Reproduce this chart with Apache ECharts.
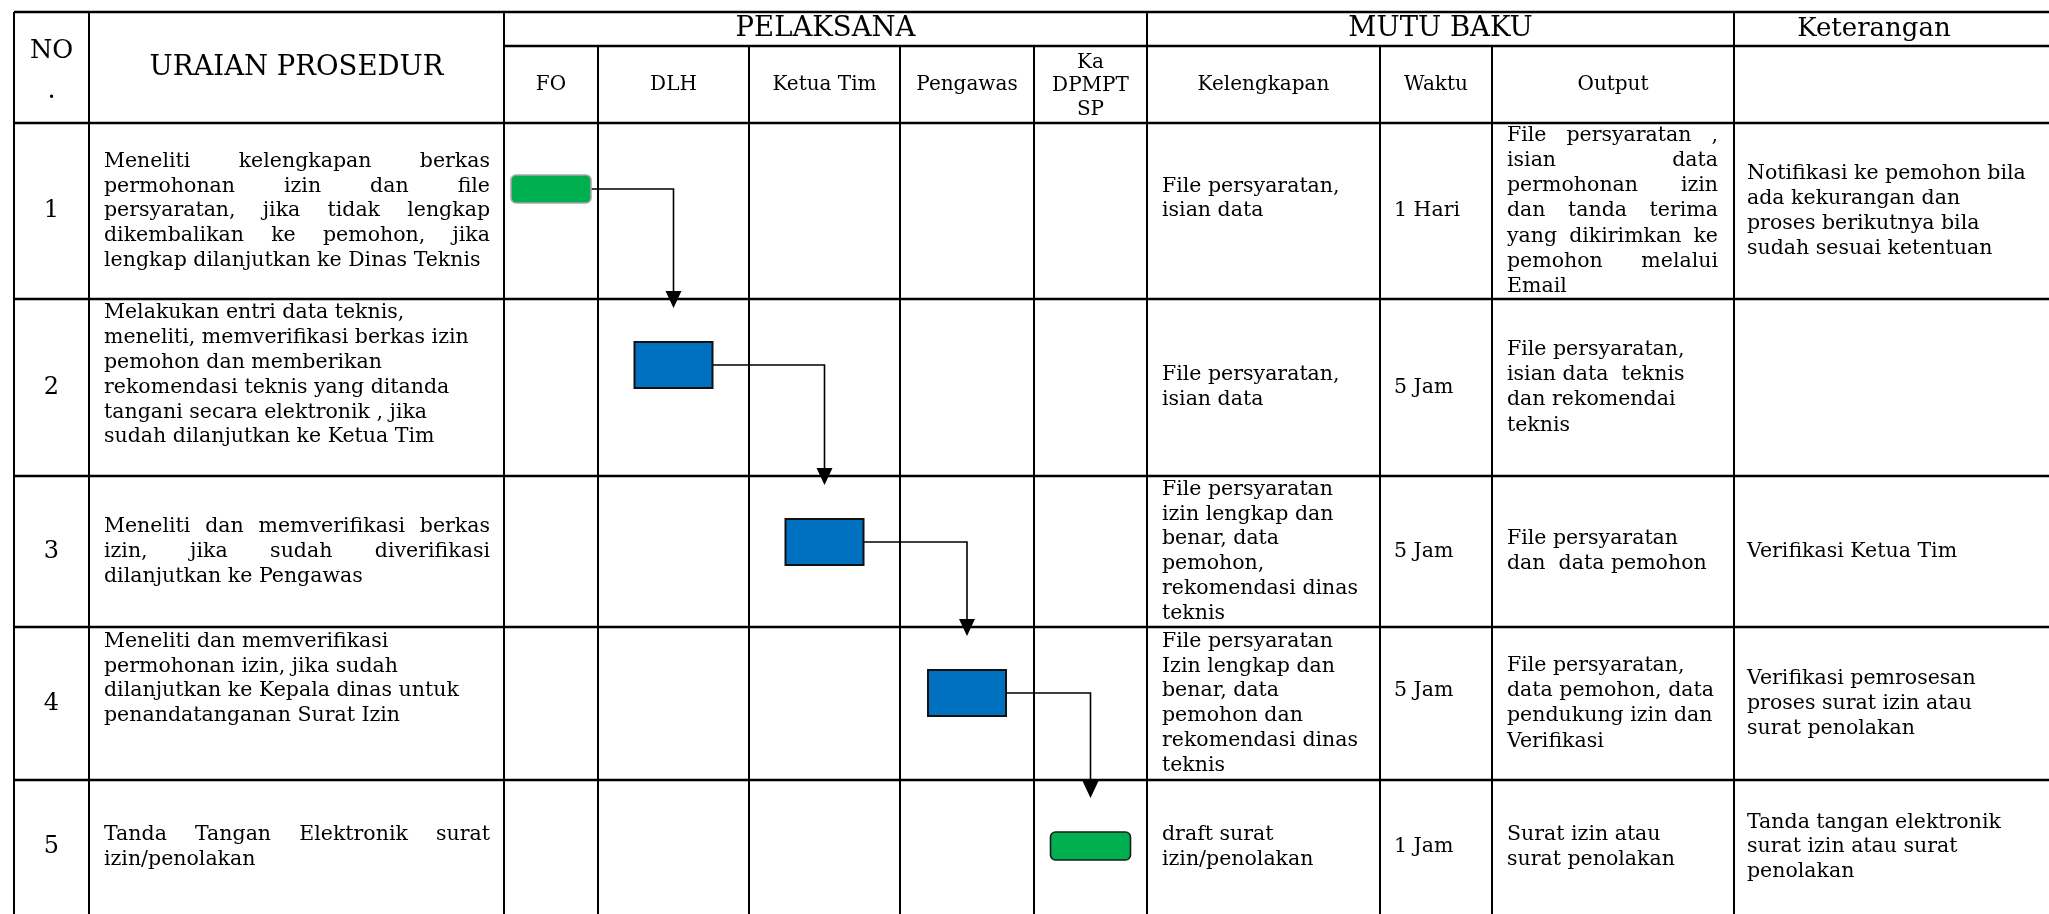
<!DOCTYPE html>
<html><head><meta charset="utf-8">
<script src="https://cdn.jsdelivr.net/npm/echarts@6/dist/echarts.min.js"></script>
<style>html,body{margin:0;padding:0;background:#fff}#c{width:2049px;height:914px}</style>
</head><body><div id="c"></div>
<script>
// ---------------- DATA ----------------
const stepNo = ['1', '2', '3', '4', '5'];
const uraian = [
  'Meneliti kelengkapan berkas\npermohonan izin dan file\npersyaratan, jika tidak lengkap\ndikembalikan ke pemohon, jika\nlengkap dilanjutkan ke Dinas Teknis',
  'Melakukan entri data teknis,\nmeneliti, memverifikasi berkas izin\npemohon dan memberikan\nrekomendasi teknis yang ditanda\ntangani secara elektronik , jika\nsudah dilanjutkan ke Ketua Tim\n',
  'Meneliti dan memverifikasi berkas\nizin, jika sudah diverifikasi\ndilanjutkan ke Pengawas',
  'Meneliti dan memverifikasi\npermohonan izin, jika sudah\ndilanjutkan ke Kepala dinas untuk\npenandatanganan Surat Izin\n\n',
  'Tanda Tangan Elektronik surat\nizin/penolakan'
];
const actors = ['FO', 'DLH', 'Ketua Tim', 'Pengawas', 'Ka\nDPMPT\nSP'];
const stepActor = [0, 1, 2, 3, 4];
const stepShape = ['terminal', 'process', 'process', 'process', 'terminal'];
const kelengkapan = [
  'File persyaratan,\nisian data\n',
  'File persyaratan,\nisian data',
  'File persyaratan\nizin lengkap dan\nbenar, data\npemohon,\nrekomendasi dinas\nteknis',
  'File persyaratan\nIzin lengkap dan\nbenar, data\npemohon dan\nrekomendasi dinas\nteknis',
  'draft surat\nizin/penolakan'
];
const waktu = ['1 Hari', '5 Jam', '5 Jam', '5 Jam\n', '1 Jam'];
const outputs = [
  'File persyaratan ,\nisian data\npermohonan izin\ndan tanda terima\nyang dikirimkan ke\npemohon melalui\nEmail',
  'File persyaratan,\nisian data  teknis\ndan rekomendai\nteknis',
  'File persyaratan\ndan  data pemohon',
  'File persyaratan,\ndata pemohon, data\npendukung izin dan\nVerifikasi',
  'Surat izin atau\nsurat penolakan'
];
const keterangan = [
  'Notifikasi ke pemohon bila\nada kekurangan dan\nproses berikutnya bila\nsudah sesuai ketentuan',
  '',
  'Verifikasi Ketua Tim',
  'Verifikasi pemrosesan\nproses surat izin atau\nsurat penolakan',
  'Tanda tangan elektronik\nsurat izin atau surat\npenolakan'
];
const mainHeaders = ['NO\n.', 'URAIAN PROSEDUR'];
const groupHeaders = ['PELAKSANA', 'MUTU BAKU', 'Keterangan'];
const mutuHeaders = ['Kelengkapan', 'Waktu', 'Output'];

// ---------------- LAYOUT / STYLE ----------------
const W = 2049, H = 914;
const colX = [14, 89, 504, 598, 749, 900, 1034, 1147, 1380, 1492, 1734, 2014];
const rowY = [12, 46, 123, 299, 476, 627, 780, 914];
const FONT = '"DejaVu Serif"';
const S = { body: 20.5, sub: 20, subSmall: 20, head: 27.5, num: 24, lh: 24.8, pad: 15 };
const justifyUraian = [true, false, true, false, true];
const justifyOutput = [true, false, false, false, false];
const SHAPE = {
  terminal: { w: 80, h: 28, r: 5, fill: '#00B050' },
  process: { w: 78, h: 46, r: 0, fill: '#0070C0', stroke: '#111', lw: 2 }
};
const terminalStroke = ['#a8a8a8', '#1a1a1a'];
const BOX_DY = 66, ARROW_GAP = 34, HEAD_H = 17, HEAD_W = 16;

const mctx = document.createElement('canvas').getContext('2d');
function tw(s, size) { mctx.font = size + 'px ' + FONT; return mctx.measureText(s).width; }
function mk(s, x, y, align, size) {
  return { type: 'text', x: x, y: y, silent: true,
    style: { text: s, font: size + 'px ' + FONT, fill: '#000', align: align, verticalAlign: 'middle' } };
}
function textBlock(api, text, o) {
  const els = [];
  if (!text) return els;
  const lines = text.split('\n');
  const n = lines.length;
  const lh = o.lh;
  let lastIdx = -1;
  lines.forEach((l, k) => { if (l.trim()) lastIdx = k; });
  const y0 = o.cy - n * lh / 2 + lh / 2;
  lines.forEach((ln, k) => {
    if (!ln.trim()) return;
    const yData = y0 + k * lh;
    const p = api.coord([o.x, yData]);
    const words = ln.split(' ').filter(w => w);
    if (o.justify && k < lastIdx && words.length > 1) {
      const pr = api.coord([o.right, yData]);
      const ws = words.map(w => tw(w, o.size));
      const sum = ws.reduce((a, b) => a + b, 0);
      const gap = (pr[0] - p[0] - sum) / (words.length - 1);
      let x = p[0];
      words.forEach((w, j) => { els.push(mk(w, x, p[1], 'left', o.size)); x += ws[j] + gap; });
    } else {
      els.push(mk(ln, p[0], p[1], o.align || 'left', o.size));
    }
  });
  return els;
}
function hline(api, x1, x2, y, lw) {
  const a = api.coord([x1, y]), b = api.coord([x2, y]);
  return { type: 'line', silent: true, shape: { x1: a[0], y1: a[1], x2: b[0], y2: b[1] }, style: { stroke: '#000', lineWidth: lw || 2.4 } };
}
function vline(api, x, y1, y2, lw) {
  const a = api.coord([x, y1]), b = api.coord([x, y2]);
  return { type: 'line', silent: true, shape: { x1: a[0], y1: a[1], x2: b[0], y2: b[1] }, style: { stroke: '#000', lineWidth: lw || 2 } };
}
const cc = c => (colX[c] + colX[c + 1]) / 2;

function renderHeader(params, api) {
  const ch = [];
  const top = rowY[0], mid = rowY[1], bot = rowY[2];
  ch.push(hline(api, colX[0], W, top));
  ch.push(hline(api, colX[2], W, mid));
  ch.push(hline(api, colX[0], W, bot));
  [0, 1, 2, 7, 10].forEach(c => ch.push(vline(api, colX[c], top, bot)));
  [3, 4, 5, 6, 8, 9].forEach(c => ch.push(vline(api, colX[c], mid, bot)));
  ch.push(...textBlock(api, mainHeaders[0], { x: cc(0), cy: (top + bot) / 2 + 4, size: S.head - 2, lh: 40, align: 'center' }));
  ch.push(...textBlock(api, mainHeaders[1], { x: cc(1), cy: (top + bot) / 2, size: S.head, lh: 34, align: 'center' }));
  const gy = (top + mid) / 2;
  ch.push(...textBlock(api, groupHeaders[0], { x: (colX[2] + colX[7]) / 2, cy: gy, size: S.head, lh: 30, align: 'center' }));
  ch.push(...textBlock(api, groupHeaders[1], { x: (colX[7] + colX[10]) / 2, cy: gy, size: S.head, lh: 30, align: 'center' }));
  ch.push(...textBlock(api, groupHeaders[2], { x: (colX[10] + colX[11]) / 2, cy: gy, size: S.head - 1.5, lh: 30, align: 'center' }));
  const sy = (mid + bot) / 2;
  actors.forEach((a, i) => {
    const multi = a.indexOf('\n') >= 0;
    ch.push(...textBlock(api, a, { x: cc(2 + i), cy: sy + (multi ? 1.5 : 0), size: multi ? S.subSmall : S.sub, lh: 23.5, align: 'center' }));
  });
  mutuHeaders.forEach((m, i) => ch.push(...textBlock(api, m, { x: cc(7 + i), cy: sy, size: S.sub, lh: 24, align: 'center' })));
  return { type: 'group', children: ch };
}

function renderRow(params, api) {
  const r = params.dataIndex;
  const top = rowY[r + 2], bot = rowY[r + 3];
  const cy = (top + bot) / 2;
  const last = r === stepNo.length - 1;
  const ch = [];
  if (!last) ch.push(hline(api, colX[0], W, bot));
  for (let c = 0; c <= 10; c++) ch.push(vline(api, colX[c], top, bot));
  ch.push(...textBlock(api, stepNo[r], { x: cc(0), cy: cy, size: S.num, lh: 28, align: 'center' }));
  ch.push(...textBlock(api, uraian[r], { x: colX[1] + S.pad, right: colX[2] - 14, cy: cy, size: S.body, lh: S.lh, justify: justifyUraian[r] }));
  ch.push(...textBlock(api, kelengkapan[r], { x: colX[7] + S.pad, cy: cy, size: S.body, lh: S.lh }));
  ch.push(...textBlock(api, waktu[r], { x: colX[8] + 14, cy: cy, size: S.body, lh: S.lh }));
  ch.push(...textBlock(api, outputs[r], { x: colX[9] + S.pad, right: colX[10] - 16, cy: cy, size: S.body, lh: 25.2, justify: justifyOutput[r] }));
  ch.push(...textBlock(api, keterangan[r], { x: colX[10] + 13, cy: cy, size: S.body, lh: S.lh }));
  return { type: 'group', children: ch };
}

function renderFlow(params, api) {
  const i = params.dataIndex;
  const col = 2 + stepActor[i];
  const cx = cc(col);
  const cy = rowY[i + 2] + BOX_DY;
  const sh = SHAPE[stepShape[i]];
  const a = api.coord([cx - sh.w / 2, cy - sh.h / 2]);
  const b = api.coord([cx + sh.w / 2, cy + sh.h / 2]);
  const ch = [];
  const isT = stepShape[i] === 'terminal';
  ch.push({ type: 'rect', silent: true, z2: 5,
    shape: { x: a[0], y: a[1], width: b[0] - a[0], height: b[1] - a[1], r: sh.r },
    style: { fill: sh.fill, stroke: isT ? terminalStroke[i === 0 ? 0 : 1] : sh.stroke, lineWidth: isT ? 1.6 : sh.lw } });
  if (i < stepActor.length - 1) {
    const ncol = 2 + stepActor[i + 1];
    const nx = cc(ncol);
    const nsh = SHAPE[stepShape[i + 1]];
    const tip = rowY[i + 3] + BOX_DY - nsh.h / 2 - ARROW_GAP;
    const p1 = api.coord([cx + sh.w / 2, cy]);
    const p2 = api.coord([nx, cy]);
    const p3 = api.coord([nx, tip - HEAD_H + 1]);
    const pt = api.coord([nx, tip]);
    ch.push({ type: 'polyline', silent: true, z2: 4, shape: { points: [p1, p2, p3] }, style: { stroke: '#000', lineWidth: 1.6, fill: null } });
    ch.push({ type: 'polygon', silent: true, z2: 4,
      shape: { points: [[pt[0] - HEAD_W / 2, pt[1] - HEAD_H], [pt[0] + HEAD_W / 2, pt[1] - HEAD_H], [pt[0], pt[1]]] },
      style: { fill: '#000' } });
  }
  return { type: 'group', children: ch };
}

const chart = echarts.init(document.getElementById('c'), null, { renderer: 'canvas', width: W, height: H });
chart.setOption({
  backgroundColor: '#fff',
  animation: false,
  grid: { left: 0, right: 0, top: 0, bottom: 0 },
  xAxis: { type: 'value', min: 0, max: W, show: false },
  yAxis: { type: 'value', min: 0, max: H, inverse: true, show: false },
  series: [
    { type: 'custom', name: 'header', coordinateSystem: 'cartesian2d', silent: true, data: [[0, 0]], renderItem: renderHeader },
    { type: 'custom', name: 'rows', coordinateSystem: 'cartesian2d', silent: true, data: stepNo.map((s, i) => [i, i]), renderItem: renderRow },
    { type: 'custom', name: 'flow', coordinateSystem: 'cartesian2d', silent: true, z: 5, data: stepActor.map((a, i) => [a, i]), renderItem: renderFlow }
  ]
});
</script></body></html>
